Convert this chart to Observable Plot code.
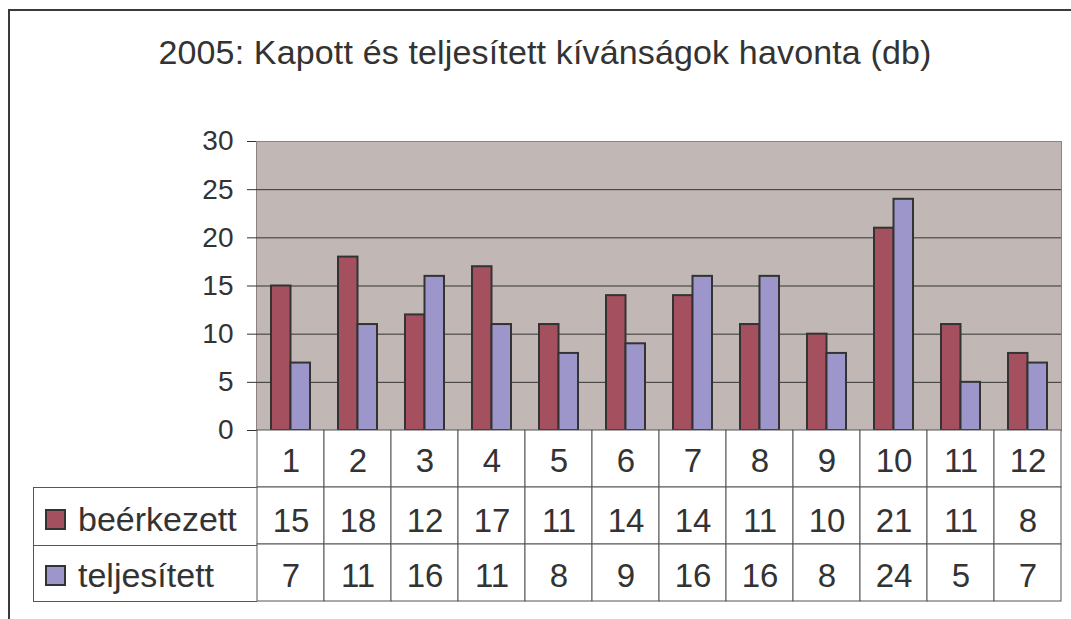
<!DOCTYPE html>
<html><head><meta charset="utf-8">
<script src="https://cdn.jsdelivr.net/npm/d3@7"></script>
<script src="https://cdn.jsdelivr.net/npm/@observablehq/plot@0.6"></script>
<style>
html,body{margin:0;padding:0;width:1071px;height:619px;overflow:hidden;background:#fff;font-family:"Liberation Sans",Arial,sans-serif;color:#333}
#frame{position:absolute;left:8px;top:9px;width:1200px;height:800px;border:2px solid #3a3a3a;box-sizing:border-box}
#title{position:absolute;left:0;width:1090px;top:35px;text-align:center;font-size:34px;line-height:34px;white-space:nowrap;color:#333}
#chart{position:absolute;left:0;top:0}
#table{position:absolute;left:0;top:429px}
#legend{position:absolute;left:33px;top:487px;width:224px;height:115px;box-sizing:border-box;border:1px solid #555;border-right:none}
.lrow{height:57px;display:flex;align-items:center;box-sizing:border-box;padding-top:6px}
.lrow+.lrow{border-top:1px solid #555;height:56px;padding-top:4px}
.sw{width:21px;height:21px;border:2px solid #333;margin-left:11px;margin-right:12px;box-sizing:border-box}
.lt{font-size:34px;color:#333}
</style>
</head><body>
<div id="frame"></div>
<div id="title"></div>
<div id="chart"></div>
<div id="table"></div>
<div id="legend"></div>
<script>
const titleText = "2005: Kapott és teljesített kívánságok havonta (db)";
const months = ["1","2","3","4","5","6","7","8","9","10","11","12"];
const beerkezett = [15,18,12,17,11,14,14,11,10,21,11,8];
const teljesitett = [7,11,16,11,8,9,16,16,8,24,5,7];
const seriesNames = ["beérkezett","teljesített"];
const seriesColors = ["#A5505F","#9D96CA"];
const yTicks = [0,5,10,15,20,25,30];

const font = "'Liberation Sans', Arial, sans-serif";

// Title (fit to reference width)
const titleEl = document.getElementById("title");
titleEl.textContent = titleText;
const ctx = document.createElement("canvas").getContext("2d");
ctx.font = "34px " + font;
const tw = ctx.measureText(titleText).width;
titleEl.style.letterSpacing = ((773 - tw) / (titleText.length - 1)) + "px";

const seriesData = [beerkezett, teljesitett];

const chart = Plot.plot({
  width: 1071, height: 460,
  marginTop: 141, marginBottom: 30, marginLeft: 256, marginRight: 10,
  style: {background: "transparent", fontFamily: font, fontSize: "28px", color: "#333"},
  x: {type: "band", domain: months, padding: 0, axis: null},
  y: {domain: [0, 30], ticks: yTicks, tickSize: 9, tickPadding: 14, label: null, line: true},
  marks: [
    Plot.frame({fill: "#C1B8B5", stroke: "#8d8181"}),
    Plot.ruleY(yTicks.filter(d => d > 0 && d < 30), {stroke: "#333", strokeWidth: 1}),
    Plot.barY(months, {x: d => d, y: (d, i) => beerkezett[i], fill: seriesColors[0], stroke: "#333", strokeWidth: 2, insetLeft: 14, insetRight: 33.5}),
    Plot.barY(months, {x: d => d, y: (d, i) => teljesitett[i], fill: seriesColors[1], stroke: "#333", strokeWidth: 2, insetLeft: 33.5, insetRight: 14}),
    Plot.ruleY([0], {stroke: "#333", strokeWidth: 1})
  ]
});
document.getElementById("chart").appendChild(chart);

// Data table
const rowKeys = ["month", ...seriesNames];
const cells = [];
months.forEach((m, i) => {
  cells.push({month: m, row: "month", text: m});
  seriesNames.forEach((s, k) => cells.push({month: m, row: s, text: String(seriesData[k][i])}));
});
const rowDy = [2, 5, 3];
const table = Plot.plot({
  width: 1071, height: 173,
  marginTop: 1, marginBottom: 1, marginLeft: 256, marginRight: 10,
  style: {background: "transparent", fontFamily: font, color: "#333"},
  x: {type: "band", domain: months, padding: 0, axis: null},
  y: {type: "band", domain: rowKeys, padding: 0, axis: null},
  marks: [
    Plot.cell(cells, {x: "month", y: "row", fill: "white", stroke: "#555", strokeWidth: 1}),
    ...rowKeys.map((r, k) => Plot.text(cells.filter(c => c.row === r), {x: "month", y: "row", text: "text", fontSize: 33, fill: "#333", dy: rowDy[k]}))
  ]
});
document.getElementById("table").appendChild(table);

// Legend / row labels
const legend = document.getElementById("legend");
seriesNames.forEach((s, k) => {
  const row = document.createElement("div");
  row.className = "lrow";
  const sw = document.createElement("div");
  sw.className = "sw";
  sw.style.background = seriesColors[k];
  const t = document.createElement("span");
  t.className = "lt";
  t.textContent = s;
  row.appendChild(sw); row.appendChild(t);
  legend.appendChild(row);
});
</script>
</body></html>
